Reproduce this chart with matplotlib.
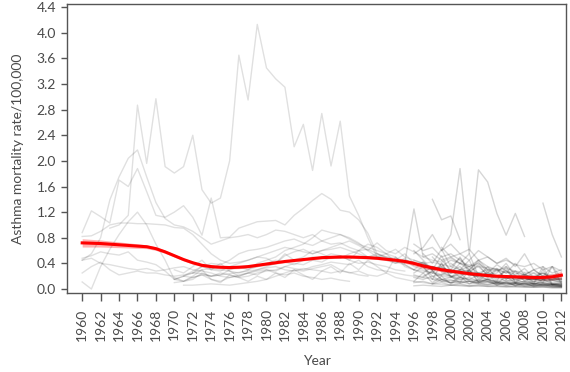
import matplotlib
matplotlib.use('Agg')
import matplotlib.pyplot as plt
import numpy as np

# Asthma mortality per country (start year, yearly values)
early_starts = [1963, 1960, 1960, 1960, 1960, 1960, 1960, 1960]
early_values = [
    [0.95, 1.00, 1.15, 2.87, 1.96, 2.97, 1.91, 1.81, 1.91, 2.40, 1.55, 1.34, 1.42, 2.00, 3.65, 2.95, 4.13,
     3.45, 3.28, 3.15, 2.22, 2.57, 1.85, 2.74, 1.92, 2.62, 1.45, 1.15, 0.80, 0.50, 0.55, 0.42, 0.38, 0.30],
    [0.88, 1.22, 1.13, 1.03, 1.70, 1.60, 1.88, 1.52, 1.15, 1.12, 1.20, 1.30, 1.12, 0.84, 1.42, 0.80, 0.81,
     0.95, 1.00, 1.05, 1.06, 1.07, 1.00, 1.15, 1.26, 1.38, 1.49, 1.40, 1.23, 1.20, 1.08, 0.87, 0.55, 0.50,
     0.45, 0.55, 0.40, 0.35],
    [0.45, 0.55, 0.80, 1.39, 1.75, 2.04, 2.17, 1.75, 1.35, 1.10, 1.00, 0.97, 0.90, 0.80, 0.70, 0.75, 0.80,
     0.82, 0.85, 0.80, 0.85, 0.92, 0.90, 0.85, 0.80, 0.85, 0.75, 0.70, 0.72, 0.65, 0.60, 0.62, 0.55, 0.50,
     0.48, 0.45, 0.40, 0.38, 0.35, 0.33, 0.30, 0.28, 0.26, 0.25, 0.22, 0.20, 0.20, 0.18, 0.17, 0.16, 0.15,
     0.15, 0.14],
    [0.82, 0.83, 0.90, 1.00, 1.03, 1.03, 1.02, 1.02, 1.01, 1.00, 0.96, 0.95, 0.85, 0.70, 0.55, 0.45, 0.40,
     0.42, 0.45, 0.50, 0.55, 0.60, 0.65, 0.62, 0.58, 0.55, 0.60, 0.62, 0.65, 0.60, 0.55, 0.50, 0.52, 0.48,
     0.45, 0.42, 0.40, 0.38],
    [0.48, 0.52, 0.58, 0.55, 0.53, 0.58, 0.45, 0.42, 0.38, 0.28, 0.15, 0.20, 0.25, 0.30, 0.32, 0.30, 0.28,
     0.25, 0.30, 0.35, 0.40, 0.45, 0.42, 0.38, 0.45, 0.50, 0.48, 0.55, 0.52, 0.45, 0.40, 0.42, 0.38, 0.35,
     0.30, 0.28],
    [0.11, 0.00, 0.35, 0.62, 0.85, 1.05, 1.20, 1.00, 0.70, 0.45, 0.15, 0.12, 0.18, 0.22, 0.20, 0.25, 0.22,
     0.18, 0.20, 0.25, 0.28, 0.30, 0.35, 0.32, 0.30, 0.35, 0.38, 0.42, 0.40, 0.38, 0.45, 0.35, 0.30, 0.28,
     0.25, 0.22, 0.20, 0.18, 0.16, 0.15, 0.14, 0.12, 0.12, 0.11, 0.10, 0.10, 0.09, 0.09, 0.08, 0.08, 0.07,
     0.07, 0.07],
    [0.25, 0.35, 0.42, 0.30, 0.22, 0.25, 0.28, 0.25, 0.25, 0.22, 0.20, 0.22, 0.25, 0.24, 0.20, 0.22, 0.24,
     0.26, 0.28, 0.30, 0.33, 0.35, 0.30, 0.28, 0.32, 0.30, 0.28, 0.25, 0.28, 0.26, 0.22, 0.20],
    [0.45, 0.48, 0.40, 0.38, 0.35, 0.32, 0.30, 0.32, 0.28, 0.30, 0.33, 0.35, 0.30, 0.28, 0.25, 0.20, 0.18,
     0.22, 0.25, 0.28, 0.30, 0.25, 0.22, 0.25, 0.20, 0.18, 0.15, 0.17, 0.14, 0.12],
]

mid_starts = [1970, 1970, 1971, 1970, 1971, 1972, 1970]
mid_values = [
    [0.15, 0.20, 0.28, 0.35, 0.40, 0.38, 0.45, 0.55, 0.60, 0.62, 0.65, 0.70, 0.75, 0.78, 0.72, 0.68, 0.75,
     0.80, 0.85, 0.78, 0.70, 0.65, 0.60, 0.55, 0.62, 0.50, 0.45, 0.40, 0.42, 0.38, 0.35, 0.30, 0.28, 0.25,
     0.22, 0.20, 0.18, 0.20, 0.17, 0.15, 0.16, 0.14, 0.15],
    [0.10, 0.12, 0.15, 0.25, 0.20, 0.22, 0.30, 0.35, 0.30, 0.40, 0.45, 0.50, 0.60, 0.65, 0.70, 0.80, 0.92,
     0.88, 0.85, 0.80, 0.72, 0.60, 0.50, 0.45, 0.40, 0.48, 0.35, 0.30, 0.25, 0.22, 0.20, 0.18, 0.15, 0.13,
     0.12, 0.10, 0.10, 0.09, 0.08, 0.08, 0.07, 0.07, 0.06],
    [0.06, 0.06, 0.07, 0.08, 0.07, 0.06, 0.08, 0.10, 0.12, 0.15, 0.20, 0.25, 0.30, 0.28, 0.32, 0.35, 0.38,
     0.30, 0.25, 0.28, 0.22, 0.20, 0.25, 0.18, 0.15, 0.12, 0.10, 0.08, 0.07, 0.06, 0.06, 0.05, 0.05, 0.04,
     0.04, 0.04, 0.03, 0.03, 0.03, 0.03, 0.02, 0.02],
    [0.30, 0.25, 0.35, 0.45, 0.30, 0.40, 0.28, 0.20, 0.25, 0.30, 0.35, 0.40, 0.55, 0.45, 0.50, 0.60, 0.55,
     0.48, 0.52, 0.45, 0.60, 0.50, 0.55, 0.48, 0.40, 0.45, 0.42, 0.35, 0.30, 0.32, 0.28, 0.25, 0.27, 0.22,
     0.20, 0.21, 0.18, 0.17, 0.16, 0.15, 0.14, 0.13, 0.12],
    [0.20, 0.18, 0.22, 0.15, 0.12, 0.18, 0.20, 0.25, 0.22, 0.30, 0.28, 0.35, 0.40, 0.38, 0.45, 0.42, 0.50,
     0.48, 0.55, 0.60, 0.70, 0.65, 0.55, 0.50, 0.35, 0.30, 0.28, 0.25, 0.20, 0.18, 0.15, 0.14, 0.12, 0.12,
     0.11, 0.10, 0.09, 0.09, 0.08, 0.08, 0.07, 0.07],
    [0.25, 0.35, 0.30, 0.28, 0.35, 0.40, 0.45, 0.50, 0.48, 0.40, 0.52, 0.58, 0.62, 0.55, 0.60, 0.65, 0.70,
     0.75, 0.68, 0.60, 0.72, 0.60, 0.55, 0.65, 0.58, 0.50, 0.45, 0.42, 0.48, 0.40, 0.38, 0.35, 0.33, 0.30,
     0.32, 0.28, 0.26, 0.25, 0.24, 0.22, 0.23],
    [0.18, 0.12, 0.20, 0.30, 0.15, 0.10, 0.22, 0.18, 0.12, 0.20, 0.15, 0.25, 0.18, 0.30, 0.22, 0.15, 0.28,
     0.35, 0.25, 0.40, 0.30, 0.45, 0.35, 0.25, 0.50, 0.38, 0.30, 0.42, 0.28, 0.22],
]

late_starts = [1995, 1998, 1999, 2010, 1996, 1996, 1996, 1996, 1997, 1998, 1996, 1998, 1999, 1996,
               1998, 1996, 2000, 1996, 1998, 1996, 1999, 1996, 1997, 1998, 1996, 1999, 1996, 1997]
late_values = [
    [0.40, 1.25, 0.50, 0.55, 0.45, 0.50, 0.40, 0.35, 0.45, 0.30, 0.28, 0.35, 0.25, 0.22, 0.30, 0.20, 0.18, 0.15],
    [1.40, 1.08, 1.14, 0.77],
    [0.60, 0.85, 1.88, 0.55, 1.86, 1.67, 1.18, 0.84, 1.18, 0.82],
    [1.34, 0.85, 0.50],
    [0.55, 0.65, 0.85, 0.60, 0.70, 0.55, 0.62, 0.45, 0.50, 0.40, 0.45, 0.38, 0.35, 0.40, 0.30, 0.35, 0.28],
    [0.30, 0.25, 0.35, 0.28, 0.20, 0.22, 0.25, 0.18, 0.15, 0.20, 0.12, 0.15, 0.10, 0.12, 0.09, 0.08, 0.08],
    [0.10, 0.12, 0.08, 0.15, 0.10, 0.09, 0.12, 0.08, 0.07, 0.10, 0.06, 0.08, 0.05, 0.06, 0.05, 0.05, 0.04],
    [0.45, 0.40, 0.30, 0.35, 0.25, 0.30, 0.28, 0.35, 0.22, 0.25, 0.40, 0.20, 0.18, 0.25, 0.15, 0.18, 0.12],
    [0.20, 0.28, 0.15, 0.18, 0.25, 0.12, 0.10, 0.15, 0.12, 0.08, 0.10, 0.07, 0.09, 0.06, 0.07, 0.05],
    [0.50, 0.35, 0.45, 0.40, 0.30, 0.45, 0.35, 0.30, 0.25, 0.40, 0.22, 0.30, 0.20, 0.35, 0.18],
    [0.05, 0.06, 0.05, 0.04, 0.06, 0.05, 0.04, 0.05, 0.04, 0.04, 0.03, 0.04, 0.03, 0.03, 0.03, 0.02, 0.02],
    [0.35, 0.30, 0.25, 0.28, 0.22, 0.20, 0.25, 0.18, 0.20, 0.15, 0.18, 0.12, 0.14, 0.10, 0.12],
    [0.65, 0.50, 0.55, 0.45, 0.60, 0.50, 0.40, 0.48, 0.35, 0.55, 0.30, 0.35, 0.25, 0.30],
    [0.18, 0.15, 0.20, 0.12, 0.14, 0.10, 0.12, 0.09, 0.11, 0.08, 0.09, 0.07, 0.08, 0.06, 0.07, 0.06, 0.05],
    [0.15, 0.12, 0.10, 0.12, 0.08, 0.10, 0.07, 0.09, 0.06, 0.08, 0.05, 0.06, 0.05, 0.05, 0.04],
    [0.25, 0.35, 0.20, 0.22, 0.30, 0.18, 0.15, 0.22, 0.14, 0.12, 0.18, 0.10, 0.12, 0.09, 0.10, 0.08, 0.07],
    [0.40, 0.30, 0.35, 0.25, 0.30, 0.20, 0.28, 0.18, 0.22, 0.15, 0.20, 0.14, 0.16],
    [0.70, 0.60, 0.65, 0.50, 0.55, 0.45, 0.35, 0.40, 0.30, 0.32, 0.25, 0.28, 0.22, 0.20, 0.25, 0.18, 0.16],
    [0.08, 0.10, 0.06, 0.08, 0.05, 0.07, 0.05, 0.06, 0.04, 0.05, 0.04, 0.03, 0.04, 0.03, 0.03],
    [0.38, 0.42, 0.30, 0.33, 0.28, 0.35, 0.20, 0.25, 0.18, 0.30, 0.16, 0.20, 0.14, 0.16, 0.12, 0.14, 0.10],
    [0.25, 0.20, 0.15, 0.18, 0.12, 0.16, 0.10, 0.14, 0.09, 0.12, 0.08, 0.10, 0.07, 0.09],
    [0.60, 0.45, 0.30, 0.52, 0.25, 0.40, 0.55, 0.20, 0.35, 0.15, 0.30, 0.12, 0.25, 0.10, 0.35, 0.08, 0.10],
    [0.35, 0.15, 0.40, 0.20, 0.10, 0.30, 0.12, 0.25, 0.08, 0.20, 0.10, 0.18, 0.06, 0.15, 0.08, 0.06],
    [0.25, 0.40, 0.18, 0.30, 0.45, 0.15, 0.28, 0.12, 0.35, 0.10, 0.22, 0.08, 0.30, 0.06, 0.05],
    [0.12, 0.25, 0.10, 0.20, 0.08, 0.18, 0.30, 0.10, 0.15, 0.06, 0.12, 0.05, 0.10, 0.04, 0.08, 0.04, 0.03],
    [0.45, 0.30, 0.50, 0.25, 0.38, 0.20, 0.32, 0.15, 0.28, 0.12, 0.20, 0.10, 0.35, 0.08],
    [0.22, 0.18, 0.28, 0.15, 0.10, 0.20, 0.08, 0.15, 0.12, 0.06, 0.10, 0.05, 0.08, 0.04, 0.06, 0.04, 0.04],
    [0.55, 0.40, 0.62, 0.35, 0.48, 0.30, 0.42, 0.25, 0.38, 0.28, 0.22, 0.32, 0.18, 0.25, 0.15, 0.20],
]

# smoothed trend (red) and its confidence half-width
trend_years = list(range(1960, 2013))
trend_values = [0.72, 0.715, 0.71, 0.70, 0.69, 0.68, 0.67, 0.66, 0.63, 0.58,
                0.52, 0.46, 0.41, 0.37, 0.35, 0.34, 0.335, 0.34, 0.35, 0.37,
                0.39, 0.41, 0.43, 0.445, 0.46, 0.475, 0.49, 0.495, 0.50, 0.50,
                0.495, 0.49, 0.48, 0.465, 0.45, 0.43, 0.40, 0.36, 0.33, 0.30,
                0.28, 0.26, 0.24, 0.225, 0.21, 0.20, 0.195, 0.19, 0.185, 0.18,
                0.18, 0.19, 0.215]
trend_halfwidth = [0.065, 0.06, 0.055, 0.05, 0.045, 0.04, 0.035, 0.03, 0.028, 0.025,
                   0.022, 0.022, 0.022, 0.022, 0.022, 0.022, 0.022, 0.022, 0.022, 0.022,
                   0.02, 0.02, 0.02, 0.02, 0.02, 0.02, 0.02, 0.02, 0.02, 0.02,
                   0.02, 0.02, 0.02, 0.022, 0.025, 0.028, 0.035, 0.04, 0.035, 0.03,
                   0.028, 0.027, 0.026, 0.025, 0.025, 0.025, 0.026, 0.028, 0.03, 0.033,
                   0.038, 0.048, 0.06]

plt.rcParams['font.family'] = ['Lato', 'DejaVu Sans']
txt = '#4a4a4a'

fig = plt.figure(figsize=(5.7, 3.72), dpi=100)
ax = fig.add_axes([0.1175, 0.2124, 0.8755, 0.7766])

#country lines
for starts, values in [(early_starts, early_values), (mid_starts, mid_values)]:
    for s, v in zip(starts, values):
        yrs = np.arange(s, s + len(v))
        ax.plot(yrs, v, color='black', alpha=0.12, lw=1.0)
for s, v in zip(late_starts, late_values):
    yrs = np.arange(s, s + len(v))
    ax.plot(yrs, v, color='black', alpha=0.16, lw=1.0)

tv = np.array(trend_values)
hw = np.array(trend_halfwidth)
ax.fill_between(trend_years, tv - hw, tv + hw, color='#ff0000', alpha=0.3, lw=0)
ax.plot(trend_years, tv, color='#ff0000', lw=2.2)

ax.set_xlim(1958.35, 2012.5)
ax.set_ylim(-0.062, 4.447)
ax.set_xticks(range(1960, 2013, 2))
ax.set_xticklabels([str(y) for y in range(1960, 2013, 2)], rotation=90)
ax.set_yticks(np.arange(0, 4.41, 0.4))
ax.set_yticklabels(['%.1f' % t for t in np.arange(0, 4.41, 0.4)])

for sp in ax.spines.values():
    sp.set_color('#555555')
    sp.set_linewidth(1.0)
ax.tick_params(axis='x', length=6, width=1, color='#555555', labelsize=10, labelcolor=txt, pad=5)
ax.tick_params(axis='y', length=4, width=1, color='#555555', labelsize=10, labelcolor=txt, pad=4)

ax.set_xlabel('Year', fontsize=10, color=txt, labelpad=10)
ax.set_ylabel('Asthma mortality rate/100,000', fontsize=10, color=txt, labelpad=9)

fig.savefig('out.png', dpi=100)
